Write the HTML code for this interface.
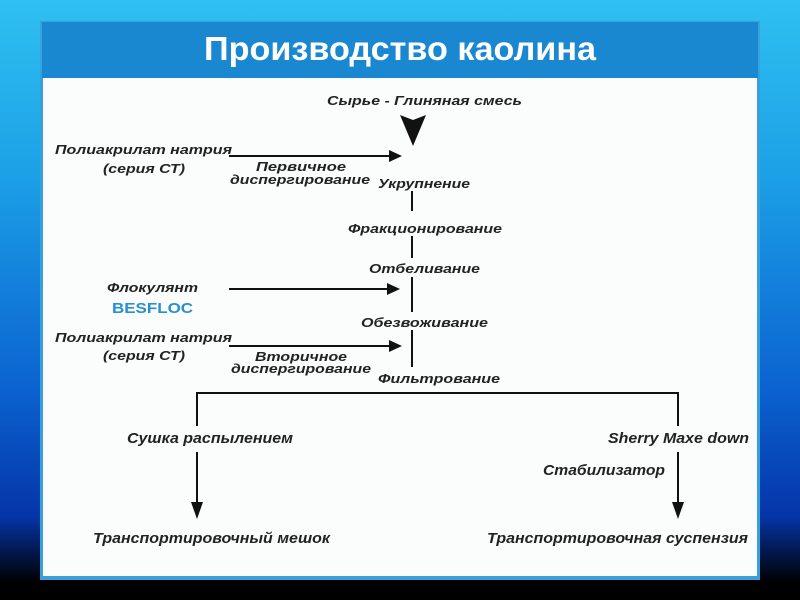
<!DOCTYPE html>
<html><head><meta charset="utf-8"><style>
html,body{margin:0;padding:0;width:800px;height:600px;overflow:hidden}
body{background:linear-gradient(180deg,#2fc0f0 0%,#1b9fe6 30%,#0b62d0 65%,#0535a8 86%,#000 97%,#000 100%)}
svg{position:absolute;left:0;top:0}
text{font-family:"Liberation Sans",sans-serif;font-style:italic;font-weight:bold;font-size:13px;fill:#222}
.b{font-size:15px}
</style></head><body>
<svg width="800" height="600" viewBox="0 0 800 600">
<rect x="40" y="21" width="720" height="559" fill="#3aa0dc"/>
<rect x="42" y="22" width="716" height="56" fill="#1a88d0"/>
<text x="400" y="60" text-anchor="middle" style="font-style:normal;font-size:33px;fill:#fff" textLength="392" lengthAdjust="spacingAndGlyphs">Производство каолина</text>
<rect x="43" y="78" width="714" height="498" fill="#fbfcfc"/>
<g stroke="#111" stroke-width="2" fill="none">
<line x1="229" y1="156" x2="392" y2="156"/>
<line x1="229" y1="289" x2="390" y2="289"/>
<line x1="229" y1="346" x2="392" y2="346"/>
<line x1="412" y1="191" x2="412" y2="211"/>
<line x1="412" y1="236" x2="412" y2="258"/>
<line x1="412" y1="277" x2="412" y2="312"/>
<line x1="412" y1="330" x2="412" y2="367"/>
<polyline points="197,426 197,393 678,393 678,426"/>
<line x1="197" y1="452" x2="197" y2="506"/>
<line x1="678" y1="452" x2="678" y2="506"/>
</g>
<g fill="#111">
<polygon points="400,115 413,120 426,115 413,146"/>
<polygon points="389,150 402,156 389,162"/>
<polygon points="387,283 400,289 387,295"/>
<polygon points="389,340 402,346 389,352"/>
<polygon points="191,502 203,502 197,519"/>
<polygon points="672,502 684,502 678,519"/>
</g>
<text x="327" y="105" textLength="195" lengthAdjust="spacingAndGlyphs">Сырье - Глиняная смесь</text>
<text x="55" y="154" textLength="177" lengthAdjust="spacingAndGlyphs">Полиакрилат натрия</text>
<text x="103" y="173" textLength="82" lengthAdjust="spacingAndGlyphs">(серия СТ)</text>
<text x="256" y="171" textLength="90" lengthAdjust="spacingAndGlyphs">Первичное</text>
<text x="230" y="184" textLength="140" lengthAdjust="spacingAndGlyphs">диспергирование</text>
<text x="378" y="188" textLength="92" lengthAdjust="spacingAndGlyphs">Укрупнение</text>
<text x="348" y="233" textLength="154" lengthAdjust="spacingAndGlyphs">Фракционирование</text>
<text x="369" y="273" textLength="111" lengthAdjust="spacingAndGlyphs">Отбеливание</text>
<text x="107" y="292" textLength="91" lengthAdjust="spacingAndGlyphs">Флокулянт</text>
<text x="112" y="313" style="font-style:normal;fill:#2a8fd0;font-size:15px" textLength="81" lengthAdjust="spacingAndGlyphs">BESFLOC</text>
<text x="361" y="327" textLength="127" lengthAdjust="spacingAndGlyphs">Обезвоживание</text>
<text x="55" y="342" textLength="177" lengthAdjust="spacingAndGlyphs">Полиакрилат натрия</text>
<text x="103" y="360" textLength="82" lengthAdjust="spacingAndGlyphs">(серия СТ)</text>
<text x="255" y="361" textLength="92" lengthAdjust="spacingAndGlyphs">Вторичное</text>
<text x="231" y="373" textLength="140" lengthAdjust="spacingAndGlyphs">диспергирование</text>
<text x="378" y="383" textLength="122" lengthAdjust="spacingAndGlyphs">Фильтрование</text>
<text class="b" x="127" y="443" textLength="166" lengthAdjust="spacingAndGlyphs">Сушка распылением</text>
<text class="b" x="608" y="443" textLength="141" lengthAdjust="spacingAndGlyphs">Sherry Maxe down</text>
<text class="b" x="543" y="475" textLength="122" lengthAdjust="spacingAndGlyphs">Стабилизатор</text>
<text class="b" x="93" y="543" textLength="237" lengthAdjust="spacingAndGlyphs">Транспортировочный мешок</text>
<text class="b" x="487" y="543" textLength="261" lengthAdjust="spacingAndGlyphs">Транспортировочная суспензия</text>
</svg>
</body></html>
